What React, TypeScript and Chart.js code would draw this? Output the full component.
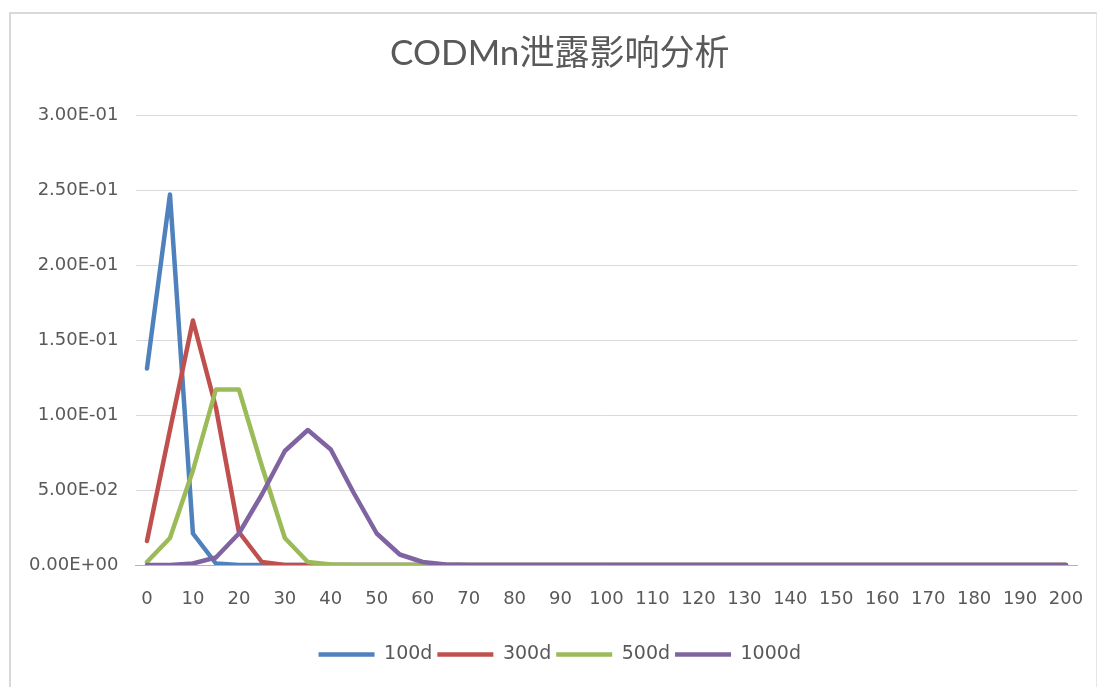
import React, { useEffect, useRef } from "react";
import { Chart, registerables } from "chart.js";

Chart.register(...registerables);

const TITLE = "CODMn泄露影响分析";

const distances = [
  "0", "5", "10", "15", "20", "25", "30", "35", "40", "45",
  "50", "55", "60", "65", "70", "75", "80", "85", "90", "95",
  "100", "105", "110", "115", "120", "125", "130", "135", "140", "145",
  "150", "155", "160", "165", "170", "175", "180", "185", "190", "195", "200",
];

const seriesNames = ["100d", "300d", "500d", "1000d"];
const seriesColors = ["#4F81BD", "#C0504D", "#9BBB59", "#8064A2"];

const d100 = [
  0.131, 0.247, 0.021, 0.001, 0, 0, 0, 0, 0, 0,
  0, 0, 0, 0, 0, 0, 0, 0, 0, 0,
  0, 0, 0, 0, 0, 0, 0, 0, 0, 0,
  0, 0, 0, 0, 0, 0, 0, 0, 0, 0, 0,
];
const d300 = [
  0.016, 0.09, 0.163, 0.105, 0.022, 0.002, 0, 0, 0, 0,
  0, 0, 0, 0, 0, 0, 0, 0, 0, 0,
  0, 0, 0, 0, 0, 0, 0, 0, 0, 0,
  0, 0, 0, 0, 0, 0, 0, 0, 0, 0, 0,
];
const d500 = [
  0.002, 0.018, 0.063, 0.117, 0.117, 0.066, 0.018, 0.002, 0.0003, 0,
  0, 0, 0, 0, 0, 0, 0, 0, 0, 0,
  0, 0, 0, 0, 0, 0, 0, 0, 0, 0,
  0, 0, 0, 0, 0, 0, 0, 0, 0, 0, 0,
];
const d1000 = [
  0, 0, 0.001, 0.005, 0.021, 0.047, 0.076, 0.09, 0.077, 0.048,
  0.021, 0.007, 0.002, 0.0004, 0, 0, 0, 0, 0, 0,
  0, 0, 0, 0, 0, 0, 0, 0, 0, 0,
  0, 0, 0, 0, 0, 0, 0, 0, 0, 0, 0,
];

const seriesValues = [d100, d300, d500, d1000];

const yTickMin = 0;
const yTickMax = 0.3;
const yTickStep = 0.05;

function sci(v: number): string {
  if (v === 0) return "0.00E+00";
  const e = Math.floor(Math.log10(Math.abs(v)) + 1e-9);
  const m = v / Math.pow(10, e);
  const sign = e < 0 ? "-" : "+";
  const ae = Math.abs(e);
  return m.toFixed(2) + "E" + sign + (ae < 10 ? "0" + ae : String(ae));
}

const TEXT = "#595959";
const FONT = "'DejaVu Sans', 'Noto Sans CJK SC', sans-serif";
const BLOCK_SHIFT = 21;

const shiftBlocks = {
  id: "shiftBlocks",
  afterLayout(chart: any) {
    const boxes = [chart.legend, chart.titleBlock];
    boxes.forEach((b: any) => {
      if (b) {
        b.left += BLOCK_SHIFT;
        b.right += BLOCK_SHIFT;
      }
    });
  },
};

export default function App() {
  const ref = useRef<HTMLCanvasElement | null>(null);

  useEffect(() => {
    if (!ref.current) return;
    const chart = new Chart(ref.current, {
      type: "line",
      data: {
        labels: distances,
        datasets: seriesNames.map((name, i) => ({
          label: name,
          data: seriesValues[i],
          borderColor: seriesColors[i],
          backgroundColor: seriesColors[i],
          borderWidth: 4.5,
          pointRadius: 0,
          pointHoverRadius: 0,
          tension: 0,
          fill: false,
          borderCapStyle: "round" as const,
          borderJoinStyle: "round" as const,
          order: seriesNames.length - i,
        })),
      },
      options: {
        responsive: false,
        animation: false,
        layout: { padding: { top: 0, left: 0, right: 22.5, bottom: 13 } },
        plugins: {
          title: {
            display: true,
            text: TITLE,
            color: TEXT,
            font: { family: "Lato, 'Noto Sans CJK SC', sans-serif", size: 35, weight: "normal" },
            padding: { top: 33, bottom: 40 },
          },
          legend: {
            position: "bottom",
            labels: {
              usePointStyle: true,
              pointStyle: "line",
              pointStyleWidth: 56,
              padding: 5,
              color: TEXT,
              font: { family: FONT, size: 19 },
              sort: (a: any, b: any) => a.datasetIndex - b.datasetIndex,
            },
          },
          tooltip: { enabled: false },
        },
        scales: {
          x: {
            type: "category",
            offset: true,
            grid: {
              display: true,
              drawOnChartArea: false,
              drawTicks: true,
              tickLength: 20,
              tickColor: "rgba(0,0,0,0)",
              color: "rgba(0,0,0,0)",
            },
            border: { display: true, color: "#b3b3b3", width: 1 },
            ticks: {
              autoSkip: false,
              maxRotation: 0,
              minRotation: 0,
              padding: 4,
              color: TEXT,
              font: { family: FONT, size: 18 },
              callback: (_v: any, idx: number) => (idx % 2 === 0 ? distances[idx] : ""),
            },
            afterFit: (scale: any) => {
              scale.height = 75;
            },
          },
          y: {
            min: yTickMin,
            max: yTickMax,
            ticks: {
              stepSize: yTickStep,
              padding: 17,
              color: TEXT,
              font: { family: FONT, size: 18 },
              callback: (v: any) => sci(Number(v)),
            },
            grid: { color: "#d9d9d9", lineWidth: 1, drawTicks: false },
            border: { display: false },
            afterFit: (scale: any) => {
              scale.width = 135.5;
            },
          },
        },
      },
      plugins: [shiftBlocks],
    });
    return () => chart.destroy();
  }, []);

  return (
    <div style={{ position: "absolute", left: 0, top: 0, width: 1100, height: 687, background: "#fff", overflow: "hidden" }}>
      <div
        style={{
          position: "absolute",
          left: 9,
          top: 12,
          width: 1088,
          height: 700,
          borderLeft: "2px solid #d9d9d9",
          borderTop: "2px solid #d9d9d9",
          borderRight: "1px solid #e6e6e6",
          boxSizing: "border-box",
        }}
      />
      <canvas ref={ref} width={1100} height={687} style={{ position: "absolute", left: 0, top: 0 }} />
    </div>
  );
}
